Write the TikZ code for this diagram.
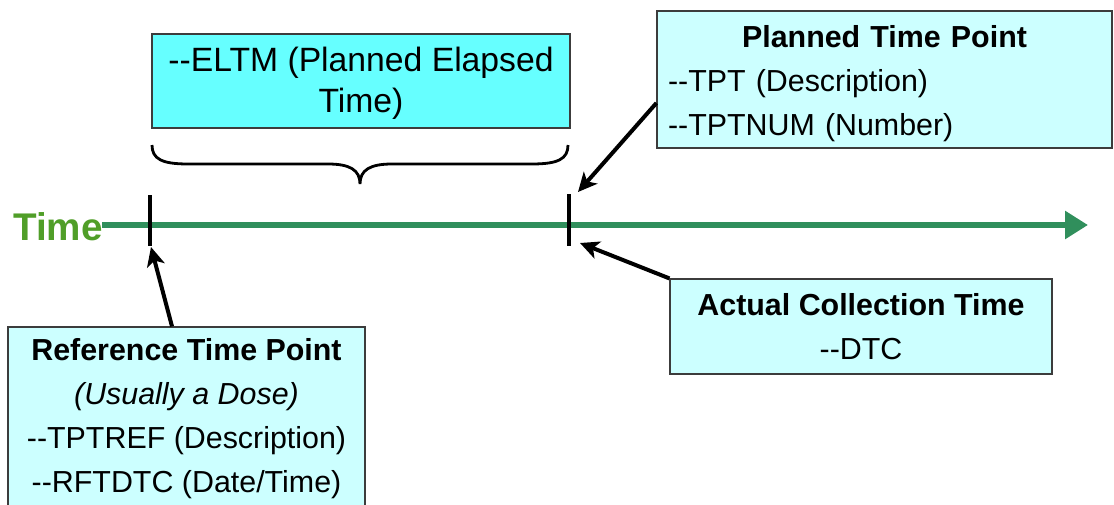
\documentclass[tikz,border=0pt]{standalone}
\usepackage{fontspec}
\setmainfont{Liberation Sans}[Ligatures=TeXOff]
\usetikzlibrary{arrows.meta,calc}
\definecolor{boxcyan}{RGB}{204,255,255}
\definecolor{eltmcyan}{RGB}{102,255,255}
\definecolor{axisgreen}{RGB}{48,143,92}
\definecolor{labelgreen}{RGB}{80,158,40}
\definecolor{boxline}{RGB}{60,60,60}
\begin{document}
\begin{tikzpicture}[x=1pt,y=-1pt,
  infobox/.style={draw=boxline, line width=1.2pt, fill=boxcyan, inner sep=0pt, align=center},
  pointer/.style={line width=4pt, -{Stealth[length=19pt,width=18pt,inset=5pt]}},
  tickmark/.style={line width=3.2pt},
  txt/.style={font=\fontsize{30.4}{44}\selectfont}]
\useasboundingbox (0,0) rectangle (1114,504);
\clip (0,0) rectangle (1114,504);

% information boxes
\node[infobox, fill=eltmcyan, minimum width=418pt, minimum height=94pt,
      font=\fontsize{33.7}{41}\selectfont] (eltm) at (361,81)
      {\strut--ELTM (Planned Elapsed\\Time)};
\node[infobox, minimum width=455pt, minimum height=137pt, text width=433pt,
      align=left, txt] (plan) at (884.5,79.5)
      {{\centering\bfseries\strut Planned Time Point\par}--TPT (Description)\\--TPTNUM (Number)};
\node[infobox, minimum width=382pt, minimum height=95pt, txt] (actual) at (861,326.5)
      {\textbf{Actual Collection Time}\\--DTC};
\node[infobox, minimum width=357pt, minimum height=183pt, txt] (ref) at (186.5,418.5)
      {\textbf{Reference Time Point}\\\textit{(Usually a Dose)}\\--TPTREF (Description)\\--RFTDTC (Date/Time)};

% time axis
\node[anchor=base west, inner sep=0pt, text=labelgreen,
      font=\fontsize{38.6}{40}\selectfont\bfseries] (timelbl) at (13,240) {Time};
\coordinate (axisstart) at (102,225);
\coordinate (axisend) at (1088,225);
\draw[axisgreen, line width=6pt, -{Triangle[length=23pt,width=27pt]}] (axisstart) -- (axisend);

% tick marks on the axis
\coordinate (refTop) at (150,195);
\coordinate (refBot) at (150,246);
\coordinate (tptTop) at (569,194);
\coordinate (tptBot) at (569,246);
\draw[tickmark] (refTop) -- (refBot);
\draw[tickmark] (tptTop) -- (tptBot);

% brace spanning the elapsed time
\coordinate (braceL) at (152,145);
\coordinate (braceR) at (568,145);
\coordinate (braceM) at (360,184);
\draw[line width=2.8pt]
  (braceL) .. controls (152,159) and (162,164) .. (188,164) -- (328,164)
  .. controls (350,164) and (360,170) .. (braceM)
  .. controls (360,170) and (370,164) .. (392,164) -- (532,164)
  .. controls (558,164) and (568,159) .. (braceR);

% pointers from the boxes to the time points
\coordinate (planTip) at (578,192);
\coordinate (actualTip) at (580,243);
\coordinate (refTip) at (151,247);
\draw[pointer] ([yshift=-23.5pt]plan.west) -- (planTip);
\draw[pointer] (actual.north west) -- (actualTip);
\draw[pointer] ([xshift=-14.5pt]ref.north) -- (refTip);
\end{tikzpicture}
\end{document}
